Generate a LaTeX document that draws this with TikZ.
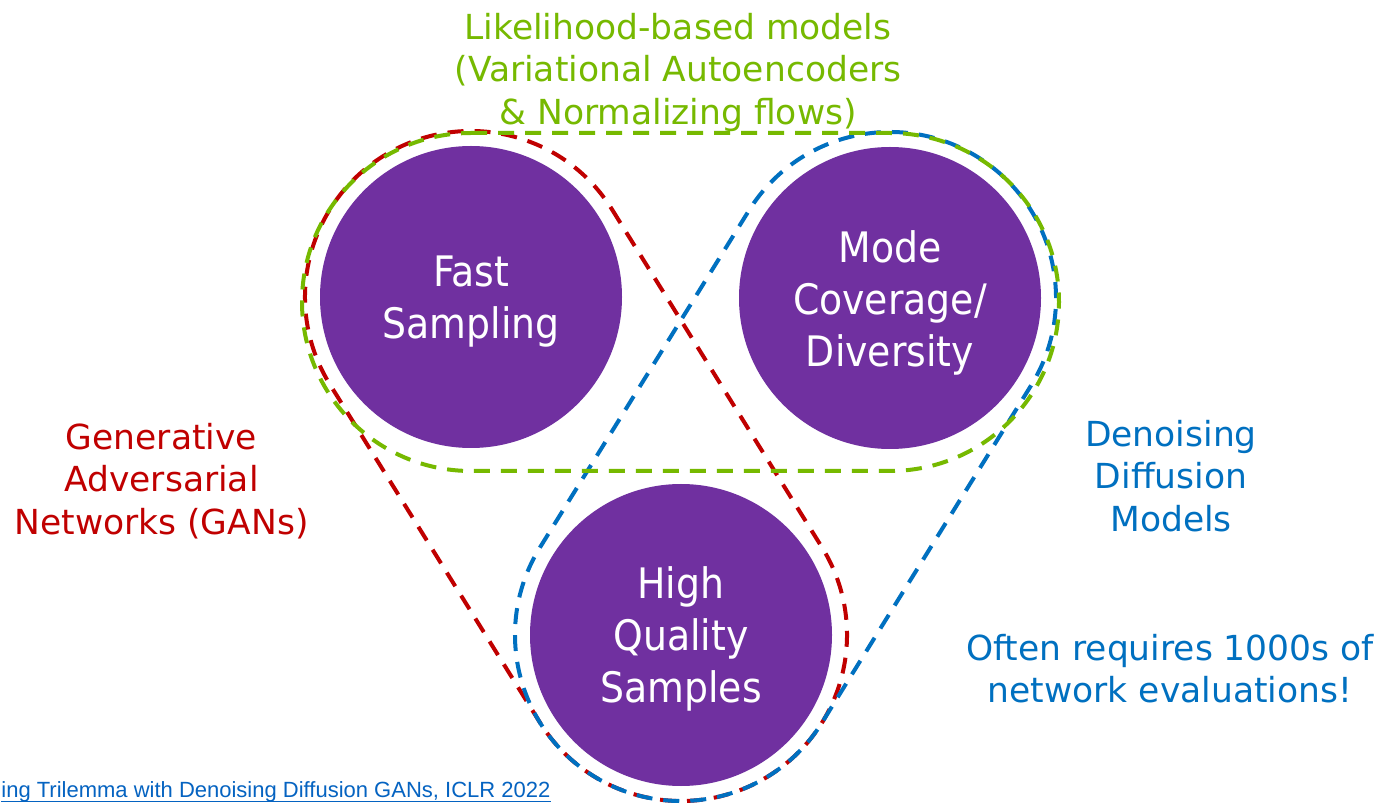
\documentclass[tikz,border=0pt]{standalone}
\usepackage{fontspec}
\setmainfont{DejaVu Sans}
\newfontfamily\circfont[FakeStretch=0.9]{DejaVu Sans}
\newfontfamily\linkfont{Liberation Sans}
\usetikzlibrary{calc}
\definecolor{cpurple}{HTML}{7030A0}
\definecolor{cgreen}{HTML}{76B900}
\definecolor{cred}{HTML}{C00000}
\definecolor{cblue}{HTML}{0070C0}
\definecolor{clink}{HTML}{0563C1}
\begin{document}
\begin{tikzpicture}[x=0.5pt,y=0.5pt,
  circ/.style={circle, fill=cpurple, draw=none, minimum size=151pt, inner sep=0pt},
  ctext/.style={inner sep=0pt, text=white, align=center, font=\circfont\fontsize{21}{26}\selectfont},
  lab/.style={inner sep=0pt, align=center, font=\fontsize{17.25}{21.25}\selectfont},
  hull/.style={line width=2pt, dash pattern=on 8pt off 5.5pt}]
\useasboundingbox (0,0) rectangle (1388,804);
\fill[white] (0,0) rectangle (1388,804);

% circles
\node[circ] (F) at (471,507) {};
\node[circ] (M) at (890,506) {};
\node[circ] (H) at (681,169) {};
\node[ctext] (Ft) at ($(F.center)+(0,-5)$) {Fast\\Sampling};
\node[ctext] (Mt) at ($(M.center)+(0,-5)$) {Mode\\Coverage/\\Diversity};
\node[ctext] (Ht) at ($(H.center)+(0,-4)$) {High\\Quality\\Samples};

\coordinate (gF) at (471,502);
\coordinate (gM) at (890,502);

% red hull (GANs): Fast + High
\draw[hull, cred] let \p1=($(H.center)-(F.center)$), \n1={atan2(\y1,\x1)} in
  ($(F.center)+(\n1+90:83pt)$) -- ($(H.center)+(\n1+90:83pt)$)
  arc[start angle=\n1+90, end angle=\n1-90, radius=83pt]
  -- ($(F.center)+(\n1-90:83pt)$)
  arc[start angle=\n1-90, end angle=\n1-270, radius=83pt] -- cycle;

% blue hull (diffusion): High + Mode
\draw[hull, cblue] let \p1=($(M.center)-(H.center)$), \n1={atan2(\y1,\x1)} in
  ($(H.center)+(\n1+90:83pt)$) -- ($(M.center)+(\n1+90:83pt)$)
  arc[start angle=\n1+90, end angle=\n1-90, radius=83pt]
  -- ($(H.center)+(\n1-90:83pt)$)
  arc[start angle=\n1-90, end angle=\n1-270, radius=83pt] -- cycle;

% green hull (likelihood): Fast + Mode
\draw[hull, cgreen]
  ($(gF)+(90:84.5pt)$) -- ($(gM)+(90:84.5pt)$)
  arc[start angle=90, end angle=-90, radius=84.5pt]
  -- ($(gF)+(-90:84.5pt)$)
  arc[start angle=-90, end angle=-270, radius=84.5pt] -- cycle;

% labels
\node[lab, text=cgreen] (lik) at (678,732) {Likelihood-based models\\(Variational Autoencoders\\\& Normalizing flows)};
\node[lab, text=cred] (gan) at (161.5,323) {Generative\\Adversarial\\Networks (GANs)};
\node[lab, text=cblue] (ddm) at (1171,328) {Denoising\\Diffusion\\Models};
\node[lab, text=cblue] (often) at (1170,135.5) {Often requires 1000s of\\network evaluations!};

\node[anchor=base west, inner sep=0pt, text=clink, font=\linkfont\fontsize{11}{13}\selectfont] (ref) at (1,7)
  {ing Trilemma with Denoising Diffusion GANs, ICLR 2022};
\draw[clink, line width=0.6pt] ([yshift=0.4pt]ref.south west) -- ([yshift=0.4pt]ref.south east);
\end{tikzpicture}
\end{document}
